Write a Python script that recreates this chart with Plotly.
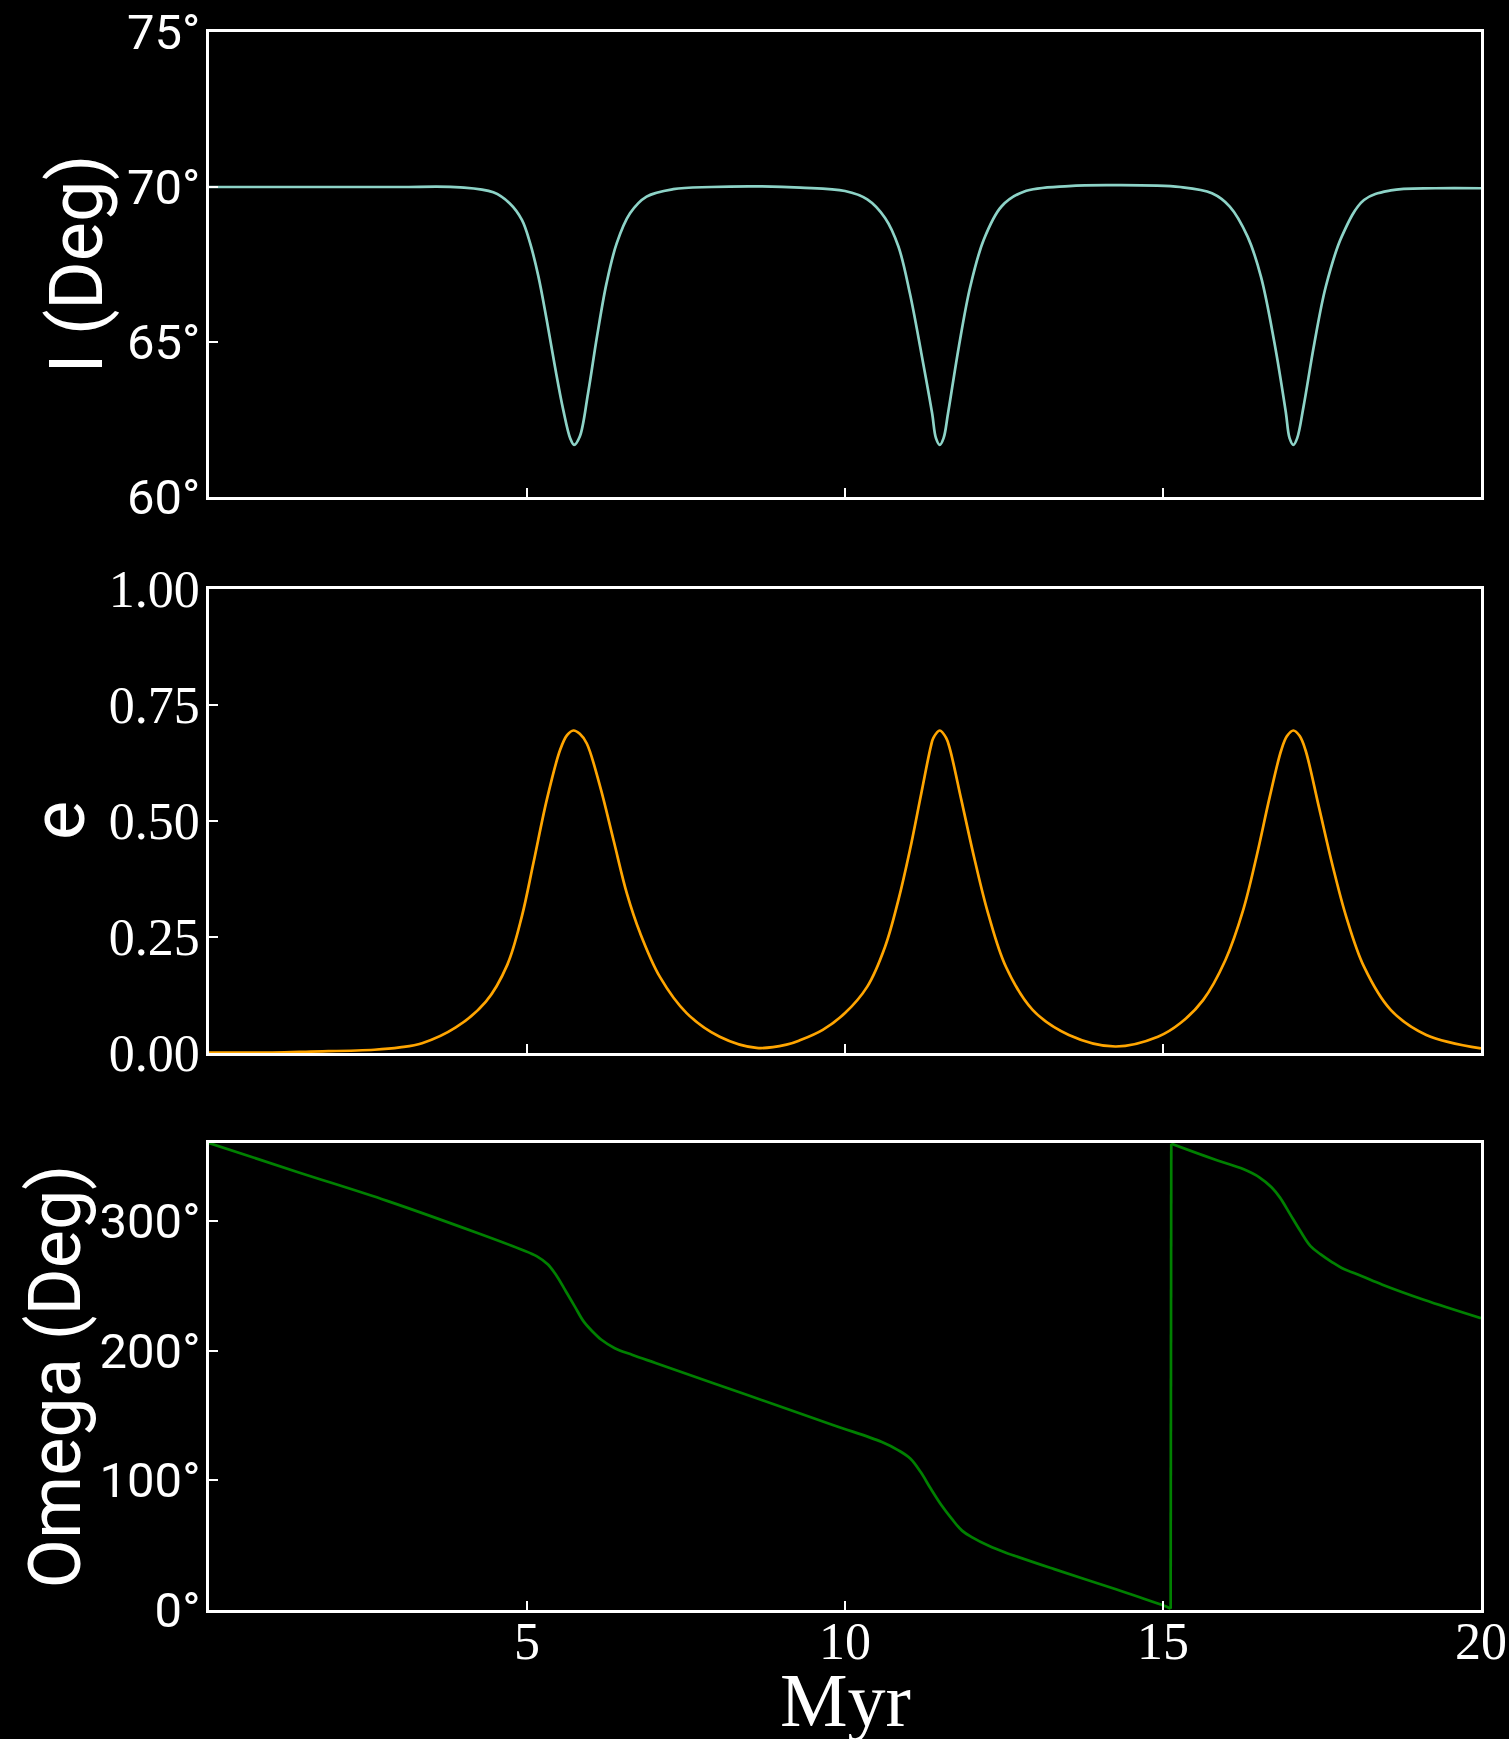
import plotly.graph_objects as go
from plotly.subplots import make_subplots
import numpy as np

# ---------------- data ----------------
t_inc = [0.0, 1.0, 2.0, 3.0, 3.95, 4.47, 4.73, 4.92, 5.05, 5.18, 5.31, 5.44, 5.57, 5.68, 5.74,
         5.83, 5.96, 6.10, 6.25, 6.41, 6.62, 6.88, 7.30, 7.90, 8.60, 9.30, 10.0, 10.35, 10.63,
         10.84, 11.02, 11.20, 11.37, 11.43, 11.49, 11.55, 11.62, 11.79, 11.97, 12.18, 12.46,
         12.81, 13.52, 14.22, 15.27, 15.77, 16.05, 16.33, 16.54, 16.75, 16.93, 16.99, 17.05,
         17.11, 17.21, 17.38, 17.56, 17.81, 18.16, 18.58, 19.28, 20.0]
inc_deg = [70.0, 70.0, 70.0, 70.0, 69.99, 69.83, 69.47, 68.94, 68.18, 67.11, 65.71, 64.2, 62.81,
           61.89, 61.68, 61.95, 63.35, 65.17, 66.89, 68.18, 69.15, 69.69, 69.93, 70.0, 70.02,
           69.98, 69.87, 69.6, 69.0, 68.08, 66.57, 64.64, 62.70, 61.9, 61.68, 61.9, 62.70,
           64.85, 66.79, 68.29, 69.37, 69.85, 70.03, 70.06, 70.0, 69.8, 69.37, 68.4, 67.11,
           65.0, 62.75, 61.9, 61.68, 61.9, 62.92, 64.96, 66.79, 68.40, 69.58, 69.89, 69.96,
           69.96]

t_ecc = [0.0, 1.0, 1.6, 2.6, 3.0, 3.35, 3.88, 4.35, 4.69, 4.92, 5.10, 5.31, 5.52, 5.63, 5.73,
         5.83, 5.94, 6.15, 6.36, 6.57, 6.78, 7.09, 7.51, 8.03, 8.61, 9.08, 9.30, 9.65, 10.0,
         10.35, 10.63, 10.84, 11.02, 11.20, 11.35, 11.39, 11.49, 11.59, 11.65, 11.83, 12.04,
         12.25, 12.53, 12.95, 13.52, 14.25, 14.92, 15.27, 15.63, 15.98, 16.26, 16.47, 16.68,
         16.86, 16.95, 17.05, 17.15, 17.24, 17.45, 17.67, 17.88, 18.16, 18.58, 19.14, 20.0]
ecc = [0.001, 0.001, 0.003, 0.007, 0.012, 0.021, 0.055, 0.11, 0.19, 0.295, 0.409, 0.545, 0.653,
       0.685, 0.695, 0.688, 0.667, 0.574, 0.459, 0.344, 0.258, 0.164, 0.086, 0.035, 0.011,
       0.018, 0.028, 0.050, 0.086, 0.143, 0.229, 0.330, 0.437, 0.560, 0.661, 0.679, 0.695,
       0.679, 0.655, 0.545, 0.416, 0.301, 0.186, 0.093, 0.039, 0.014, 0.035, 0.064, 0.114,
       0.200, 0.308, 0.423, 0.553, 0.653, 0.683, 0.695, 0.683, 0.653, 0.531, 0.402, 0.294,
       0.186, 0.093, 0.039, 0.010]

t_om = [0.0, 1.4, 2.8, 4.21, 4.91, 5.15, 5.33, 5.47, 5.61, 5.75, 5.89, 6.03, 6.17, 6.38, 6.66,
        7.02, 8.42, 9.82, 10.58, 10.84, 11.03, 11.19, 11.35, 11.52, 11.68, 11.84, 12.0, 12.26,
        12.52, 13.29, 14.26, 15.0, 15.12, 15.13, 15.87, 16.26, 16.52, 16.71, 16.84, 17.0,
        17.16, 17.32, 17.48, 17.65, 17.81, 18.13, 18.45, 19.10, 20.0]
omega_deg = [360.0, 337.5, 315.4, 290.8, 277.9, 272.8, 266.3, 257.3, 245.7, 234.1, 222.5, 214.7,
             208.3, 201.8, 196.6, 190.4, 166.5, 142.5, 129.5, 123.1, 116.6, 106.3, 93.4, 80.5,
             70.2, 61.2, 56.0, 49.5, 44.4, 31.5, 16.0, 3.6, 1.0, 359.5, 346.3, 339.9, 333.4,
             325.7, 317.9, 305.0, 292.1, 280.5, 274.1, 268.4, 263.7, 257.3, 250.8, 239.2, 225.0]

x_ticks = [5, 10, 15, 20]
inc_ticks = [60, 65, 70, 75]
ecc_ticks = [0.0, 0.25, 0.5, 0.75, 1.0]
om_ticks = [0, 100, 200, 300]

C_INC = "#8dd3c7"
C_ECC = "#ffa500"
C_OM = "#008000"

SANS = "Roboto, Lato, 'Open Sans', sans-serif"
SERIF = "'Liberation Serif', 'DejaVu Serif', serif"

W, H = 1509, 1739
L, R, T, B = 209, 28, 32, 129
PH = H - T - B
PW = W - L - R
LW = 2.7


def py(px):
    return (H - B - px) / PH


def px_x(px):
    return (px - L) / PW


fig = make_subplots(rows=3, cols=1, shared_xaxes=True)

fig.add_trace(go.Scatter(x=t_inc, y=inc_deg, mode="lines",
                         line=dict(color=C_INC, width=LW, shape="spline", smoothing=1.0),
                         showlegend=False), row=1, col=1)
fig.add_trace(go.Scatter(x=t_ecc, y=ecc, mode="lines",
                         line=dict(color=C_ECC, width=LW, shape="spline", smoothing=1.0),
                         showlegend=False), row=2, col=1)

# Omega: split at the wrap so the spline does not overshoot; connect with a straight segment
om_t = np.array(t_om)
om_v = np.array(omega_deg)
jumps = np.where(np.abs(np.diff(om_v)) > 180)[0]
starts = [0] + [j + 1 for j in jumps]
ends = [j + 1 for j in jumps] + [len(om_v)]
for s, e in zip(starts, ends):
    fig.add_trace(go.Scatter(x=om_t[s:e], y=om_v[s:e], mode="lines",
                             line=dict(color=C_OM, width=LW, shape="spline", smoothing=1.0),
                             showlegend=False), row=3, col=1)
for j in jumps:
    fig.add_trace(go.Scatter(x=om_t[j:j + 2], y=om_v[j:j + 2], mode="lines",
                             line=dict(color=C_OM, width=LW), showlegend=False), row=3, col=1)

axis_common = dict(showline=True, linecolor="white", linewidth=2.5, mirror=True,
                   ticks="inside", ticklen=9, tickwidth=1.5, tickcolor="white",
                   showgrid=False, zeroline=False, automargin=False)

for i in (1, 2, 3):
    fig.update_xaxes(range=[0, 20], tickvals=x_ticks, row=i, col=1, **axis_common)
fig.update_xaxes(showticklabels=False, row=1, col=1)
fig.update_xaxes(showticklabels=False, row=2, col=1)
fig.update_xaxes(showticklabels=True, ticktext=[str(v) for v in x_ticks], ticklabelstandoff=-16,
                 tickfont=dict(family=SERIF, size=52, color="white"), row=3, col=1)

fig.update_yaxes(range=[60, 75], tickvals=inc_ticks, ticktext=[f"{v}°" for v in inc_ticks],
                 tickfont=dict(family=SANS, size=49, color="white"), ticklabelstandoff=-4,
                 domain=[py(497), 1.0], row=1, col=1, **axis_common)
fig.update_yaxes(range=[0, 1], tickvals=ecc_ticks, ticktext=[f"{v:.2f}" for v in ecc_ticks],
                 tickfont=dict(family=SERIF, size=52, color="white"), ticklabelstandoff=-4,
                 domain=[py(1053), py(589)], row=2, col=1, **axis_common)
fig.update_yaxes(range=[0, 360], tickvals=om_ticks, ticktext=[f"{v}°" for v in om_ticks],
                 tickfont=dict(family=SANS, size=49, color="white"), ticklabelstandoff=-4,
                 domain=[0.0, py(1143)], row=3, col=1, **axis_common)

annos = [
    dict(text="I (Deg)", x=px_x(76), y=(py(497) + 1.0) / 2, textangle=-90,
         font=dict(family=SANS, size=74, color="white")),
    dict(text="e", x=px_x(58), y=(py(1053) + py(589)) / 2, textangle=-90,
         font=dict(family=SANS, size=74, color="white")),
    dict(text="Omega (Deg)", x=px_x(55), y=py(1143) / 2, textangle=-90,
         font=dict(family=SANS, size=72, color="white")),
    dict(text="Myr", x=0.5, y=py(1656), textangle=0, yanchor="top",
         font=dict(family=SERIF, size=76, color="white")),
]
for a in annos:
    a.setdefault("yanchor", "middle")
    fig.add_annotation(xref="paper", yref="paper", showarrow=False, xanchor="center", **a)

fig.update_layout(width=W, height=H, margin=dict(l=L, r=R, t=T, b=B, autoexpand=False),
                  paper_bgcolor="black", plot_bgcolor="black", showlegend=False)

fig.write_html("out.html")
